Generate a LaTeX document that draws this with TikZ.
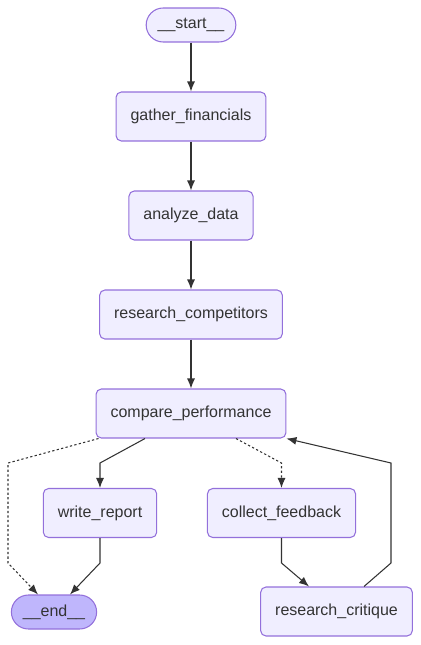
\documentclass[tikz,border=0pt]{standalone}
\usepackage{fontspec}
\setmainfont{Liberation Sans}
\usepackage{tikz}
\usetikzlibrary{arrows.meta,positioning}

\definecolor{boxfill}{HTML}{F0EEFF}
\definecolor{boxline}{HTML}{9370DB}
\definecolor{endfill}{HTML}{BFB6FC}
\definecolor{ink}{HTML}{333333}

\begin{document}
\begin{tikzpicture}[x=0.02cm, y=-0.02cm,
  every node/.style={font=\fontsize{9.1}{11}\selectfont, text=ink},
  stepbox/.style={draw=boxline, fill=boxfill, line width=0.6pt, rounded corners=3pt,
    minimum height=0.98cm, inner xsep=0.29cm},
  terminal/.style={draw=boxline, fill=boxfill, line width=0.6pt, rounded corners=0.34cm,
    minimum height=0.68cm, inner xsep=0.23cm},
  edge/.style={draw=ink, line width=0.6pt, -{Latex[length=0.2cm,width=0.16cm]}},
  optedge/.style={edge, dash pattern=on 1.3pt off 1.3pt}]
\useasboundingbox (0,0) rectangle (421,645);

% Nodes
\node[terminal] (start) at (191,25) {\_\_start\_\_};
\node[stepbox] (gather) at (191,116.5) {gather\_financials};
\node[stepbox] (analyze) at (191,215.5) {analyze\_data};
\node[stepbox] (research) at (191,314.5) {research\_competitors};
\node[stepbox] (compare) at (191,413.5) {compare\_performance};
\node[stepbox] (report) at (100,513) {write\_report};
\node[stepbox] (feedback) at (281.5,513) {collect\_feedback};
\node[terminal, fill=endfill] (end) at (54,612) {\_\_end\_\_};
\node[stepbox] (critique) at (336.5,611.5) {research\_critique};

% Main chain
\draw[edge] (start) -- (gather);
\draw[edge] (gather) -- (analyze);
\draw[edge] (analyze) -- (research);
\draw[edge] (research) -- (compare);

% Branches
\draw[optedge] ([xshift=0.06cm]compare.south west) -- (8,463) -- (8,563) -- ([xshift=-0.32cm]end.north);
\draw[edge] ([xshift=-0.92cm]compare.south) -- (100,463) -- (report);
\draw[optedge] ([xshift=0.9cm]compare.south) -- (281.5,463) -- (feedback);
\draw[edge] (report) -- (100,563) -- ([xshift=0.32cm]end.north);
\draw[edge] (feedback) -- (281.5,563) -- ([xshift=-0.55cm]critique.north);

% Loop back
\draw[edge] ([xshift=0.55cm]critique.north) -- (391,563) -- (391,463) -- (compare.south east);
\end{tikzpicture}
\end{document}
